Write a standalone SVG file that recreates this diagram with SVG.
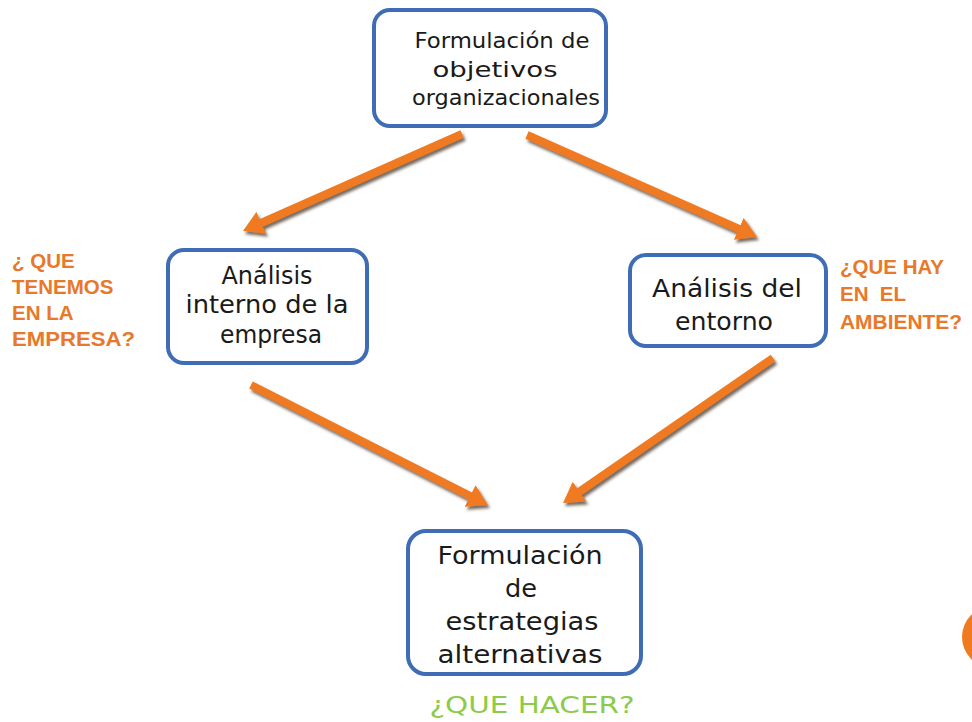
<svg xmlns="http://www.w3.org/2000/svg" width="972" height="722" viewBox="0 0 972 722">
<defs>
<style>
.box{fill:#ffffff;stroke:#3f6db5;stroke-width:4}
.t{font-family:"DejaVu Sans","Liberation Sans",sans-serif;fill:#1a1a1a;text-anchor:middle}
.q{font-family:"Liberation Sans",Arial,sans-serif;font-weight:bold;fill:#e8782a;font-size:20.5px}
.g{font-family:"DejaVu Sans","Liberation Sans",sans-serif;fill:#8ccb4a;font-size:23px;text-anchor:middle}
.arr{stroke:#ef7a20;stroke-width:8;fill:none;marker-end:url(#head);filter:url(#sh)}
</style>
<filter id="sh" x="-20%" y="-20%" width="140%" height="140%">
<feDropShadow dx="2" dy="3" stdDeviation="1.5" flood-color="#3a2a1a" flood-opacity="0.7"/>
</filter>
<marker id="head" viewBox="0 0 20 24" refX="4" refY="12" markerWidth="20" markerHeight="24" markerUnits="userSpaceOnUse" orient="auto">
<path d="M0,0 L20,12 L0,24 Z" fill="#ef7a20"/>
</marker>
</defs>
<rect width="972" height="722" fill="#ffffff"/>

<g id="connectors">
<line class="arr" x1="462" y1="134" x2="257.6" y2="224.5"/>
<line class="arr" x1="527" y1="135" x2="742.4" y2="230.5"/>
<line class="arr" x1="251" y1="385" x2="473.7" y2="497.8"/>
<line class="arr" x1="773" y1="358" x2="576.2" y2="493.9"/>
</g>

<g id="node-objetivos">
<rect class="box" x="374" y="10" width="232" height="116" rx="16"/>
<text class="t" font-size="21"><tspan x="502" y="48" textLength="175" lengthAdjust="spacingAndGlyphs">Formulación de</tspan><tspan x="495" y="77" textLength="125" lengthAdjust="spacingAndGlyphs">objetivos</tspan><tspan x="506" y="105" textLength="188" lengthAdjust="spacingAndGlyphs">organizacionales</tspan></text>
</g>

<g id="node-interno">
<rect class="box" x="168" y="250" width="199" height="113" rx="16"/>
<text class="t" font-size="25"><tspan x="267" y="284" textLength="91" lengthAdjust="spacingAndGlyphs">Análisis</tspan><tspan x="267" y="313" textLength="163" lengthAdjust="spacingAndGlyphs">interno de la</tspan><tspan x="271" y="343" textLength="102" lengthAdjust="spacingAndGlyphs">empresa</tspan></text>
</g>

<g id="node-entorno">
<rect class="box" x="630" y="255" width="196" height="91" rx="16"/>
<text class="t" font-size="24"><tspan x="727" y="297" textLength="150" lengthAdjust="spacingAndGlyphs">Análisis del</tspan><tspan x="724" y="330" textLength="98" lengthAdjust="spacingAndGlyphs">entorno</tspan></text>
</g>

<g id="node-estrategias">
<rect class="box" x="408" y="531" width="233" height="143" rx="18"/>
<text class="t" font-size="24"><tspan x="520" y="564" textLength="165" lengthAdjust="spacingAndGlyphs">Formulación</tspan><tspan x="521" y="597" textLength="32" lengthAdjust="spacingAndGlyphs">de</tspan><tspan x="522" y="630" textLength="153" lengthAdjust="spacingAndGlyphs">estrategias</tspan><tspan x="520" y="663" textLength="165" lengthAdjust="spacingAndGlyphs">alternativas</tspan></text>
</g>

<g id="label-empresa">
<text class="q"><tspan x="12" y="268">¿ QUE</tspan><tspan x="12" y="294">TENEMOS</tspan><tspan x="12" y="320">EN LA</tspan><tspan x="12" y="346" textLength="123" lengthAdjust="spacingAndGlyphs">EMPRESA?</tspan></text>
</g>

<g id="label-ambiente">
<text class="q"><tspan x="840" y="274">¿QUE HAY</tspan><tspan x="840" y="301" xml:space="preserve">EN  EL</tspan><tspan x="840" y="329" textLength="122" lengthAdjust="spacingAndGlyphs">AMBIENTE?</tspan></text>
</g>

<g id="label-hacer">
<text class="g" x="532" y="713" textLength="205" lengthAdjust="spacingAndGlyphs">¿QUE HACER?</text>
</g>

<circle cx="993" cy="637" r="31" fill="#ef7a20"/>
</svg>
